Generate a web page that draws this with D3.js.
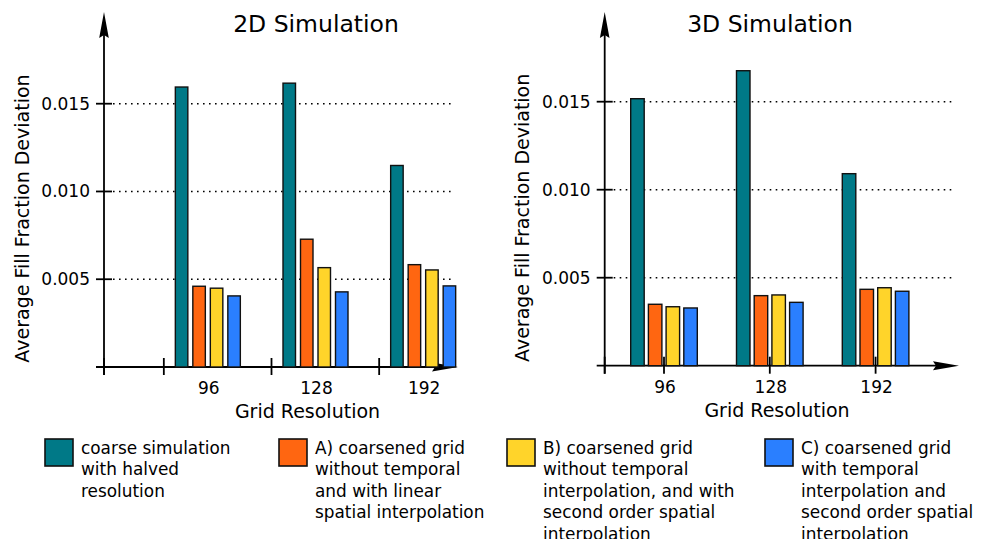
<!DOCTYPE html>
<html>
<head>
<meta charset="utf-8">
<script src="https://cdn.jsdelivr.net/npm/d3@7"></script>
<style>
  html, body { margin: 0; padding: 0; background: #fff; }
  svg { display: block; font-family: "DejaVu Sans", sans-serif; }
</style>
</head>
<body>
<svg id="chart" width="986" height="539"></svg>
<script>
// grid resolutions on the x axis
const categories = ['96', '128', '192']

// 2D simulation
const coarse2D = [0.01595, 0.01617, 0.01148]
const gridA2D = [0.00460, 0.00728, 0.00583]
const gridB2D = [0.00449, 0.00566, 0.00553]
const gridC2D = [0.00405, 0.00428, 0.00462]

// 3D simulation
const coarse3D = [0.01517, 0.01676, 0.01091]
const gridA3D = [0.00349, 0.00398, 0.00434]
const gridB3D = [0.00335, 0.00402, 0.00443]
const gridC3D = [0.00328, 0.00360, 0.00423]

const yTicks = [0.005, 0.010, 0.015]

const legendLabels = [
    ['coarse simulation', 'with halved', 'resolution'],
    ['A) coarsened grid', 'without temporal', 'and with linear', 'spatial interpolation'],
    ['B) coarsened grid', 'without temporal', 'interpolation, and with', 'second order spatial', 'interpolation'],
    ['C) coarsened grid', 'with temporal', 'interpolation and', 'second order spatial', 'interpolation']
]

const colors = ['#007987', '#ff6611', '#ffd42a', '#2a7fff']

const svg = d3.select('#chart')

const panels = [
    {
        title: '2D Simulation', series: [coarse2D, gridA2D, gridB2D, gridC2D],
        axisX: 104, zeroY: 367, topY: 103.7, bandRange: [154, 477],
        barW: 12.5, barStep: 17.5, tickShift: -44, gridEnd: 455, arrowTip: 458,
        titleX: 316, labelX: 29, xTitleX: 307.5
    },
    {
        title: '3D Simulation', series: [coarse3D, gridA3D, gridB3D, gridC3D],
        axisX: 604.7, zeroY: 365.7, topY: 101.7, bandRange: [611.1, 928.5],
        barW: 13.5, barStep: 17.7, tickShift: 0, gridEnd: 955, arrowTip: 959,
        titleX: 770, labelX: 529, xTitleX: 777
    }
]

panels.forEach(p => {
    const g = svg.append('g')

    const y = d3.scaleLinear()
        .domain([0, 0.015])
        .range([p.zeroY, p.topY])

    const x = d3.scaleBand()
        .domain(categories)
        .range(p.bandRange)

    const inner = d3.scaleLinear()
        .domain([0, 1])
        .range([0, p.barStep])

    // dotted grid lines
    g.selectAll('line.grid')
        .data(yTicks)
        .join('line')
        .attr('class', 'grid')
        .attr('x1', p.axisX + 9)
        .attr('x2', p.gridEnd)
        .attr('y1', d => y(d))
        .attr('y2', d => y(d))
        .attr('stroke', '#000')
        .attr('stroke-width', 1.4)
        .attr('stroke-dasharray', '1.6 4.4')

    // y axis line + arrow
    g.append('line')
        .attr('x1', p.axisX).attr('x2', p.axisX)
        .attr('y1', p.zeroY + 8).attr('y2', 30)
        .attr('stroke', '#000').attr('stroke-width', 1.8)
    g.append('path')
        .attr('d', `M${p.axisX},12 L${p.axisX + 4.8},38 L${p.axisX},35 L${p.axisX - 4.8},38 Z`)
        .attr('fill', '#000')

    // x axis line + arrow
    g.append('line')
        .attr('x1', p.axisX - 8).attr('x2', p.arrowTip - 20)
        .attr('y1', p.zeroY).attr('y2', p.zeroY)
        .attr('stroke', '#000').attr('stroke-width', 1.8)
    g.append('path')
        .attr('d', `M${p.arrowTip},${p.zeroY} L${p.arrowTip - 26},${p.zeroY + 4.5} L${p.arrowTip - 23},${p.zeroY} L${p.arrowTip - 26},${p.zeroY - 4.5} Z`)
        .attr('fill', '#000')

    // y ticks + labels
    g.selectAll('line.ytick')
        .data(yTicks)
        .join('line')
        .attr('class', 'ytick')
        .attr('x1', p.axisX - 8).attr('x2', p.axisX + 8)
        .attr('y1', d => y(d)).attr('y2', d => y(d))
        .attr('stroke', '#000').attr('stroke-width', 1.8)
    g.selectAll('text.ylab')
        .data(yTicks)
        .join('text')
        .attr('class', 'ylab')
        .attr('x', p.axisX - 14)
        .attr('y', d => y(d) + 6)
        .attr('text-anchor', 'end')
        .style('font-size', '17px')
        .text(d3.format('.3f'))

    // bars
    p.series.forEach((vals, si) => {
        g.selectAll(null)
            .data(vals)
            .join('rect')
            .attr('x', (d, i) => x(categories[i]) + x.bandwidth() / 2 - (p.barStep * 3 + p.barW) / 2 + inner(si))
            .attr('y', d => y(d))
            .attr('width', p.barW)
            .attr('height', d => y(0) - y(d))
            .attr('fill', colors[si])
            .attr('stroke', '#111')
            .attr('stroke-width', 1.4)
    })

    // x ticks (axis origin + categories)
    const tickXs = [p.axisX].concat(categories.map(c => x(c) + x.bandwidth() / 2 + p.tickShift))
    g.selectAll('line.xtick')
        .data(tickXs)
        .join('line')
        .attr('class', 'xtick')
        .attr('x1', d => d).attr('x2', d => d)
        .attr('y1', p.zeroY - 9).attr('y2', p.zeroY + 8)
        .attr('stroke', '#000').attr('stroke-width', 1.8)

    g.selectAll('text.xlab')
        .data(categories)
        .join('text')
        .attr('class', 'xlab')
        .attr('x', d => x(d) + x.bandwidth() / 2 + 1)
        .attr('y', p.zeroY + 27)
        .attr('text-anchor', 'middle')
        .style('font-size', '17px')
        .text(d => d)

    g.append('text')
        .attr('x', p.xTitleX)
        .attr('y', p.zeroY + 51)
        .attr('text-anchor', 'middle')
        .style('font-size', '19px')
        .text('Grid Resolution')

    g.append('text')
        .attr('transform', `translate(${p.labelX},${(p.zeroY + 70) / 2}) rotate(-90)`)
        .attr('text-anchor', 'middle')
        .style('font-size', '19px')
        .text('Average Fill Fraction Deviation')

    g.append('text')
        .attr('x', p.titleX)
        .attr('y', 31.5)
        .attr('text-anchor', 'middle')
        .style('font-size', '23.5px')
        .text(p.title)
})

// legend
const legendX = [45, 279, 507, 765]
const legend = svg.append('g')
    .selectAll('g')
    .data(legendLabels)
    .join('g')
    .attr('transform', (d, i) => `translate(${legendX[i]},439)`)

legend.append('rect')
    .attr('width', 28).attr('height', 27)
    .attr('fill', (d, i) => colors[i])
    .attr('stroke', '#111')
    .attr('stroke-width', 1.6)

legend.append('text')
    .style('font-size', '16.9px')
    .selectAll('tspan')
    .data(d => d)
    .join('tspan')
    .attr('x', 36)
    .attr('y', (d, i) => 14.5 + i * 21.6)
    .text(d => d)
</script>
</body>
</html>
